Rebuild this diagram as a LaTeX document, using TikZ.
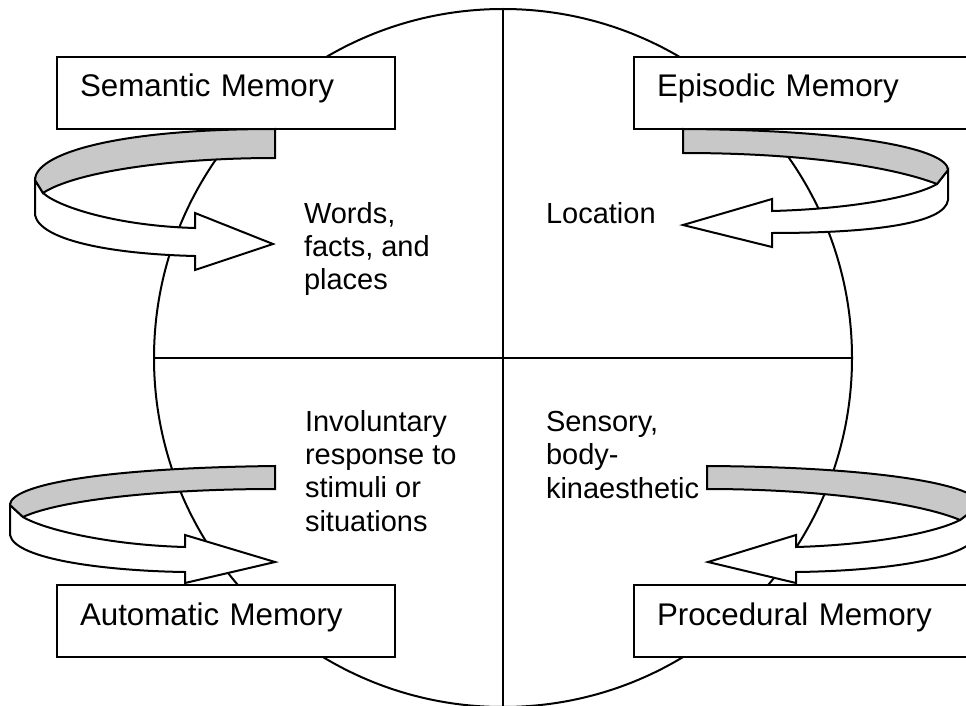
\documentclass[tikz,border=0pt]{standalone}
\usepackage{fontspec}
\setmainfont{Liberation Sans}
\definecolor{ribbongray}{RGB}{200,200,200}
\begin{document}
\begin{tikzpicture}[x=1pt,y=-1pt,line width=2pt,line join=miter,
  membox/.style={draw,fill=white,anchor=north west,outer sep=0pt,inner xsep=23pt,
    inner ysep=17pt,text height=23pt,text depth=15pt,align=left,
    font=\fontsize{31.3}{37}\selectfont},
  bodytext/.style={anchor=base west,inner sep=0pt,align=left,
    font=\fontsize{29}{33.2}\selectfont},
  ribgray/.style={draw,fill=ribbongray},
  ribwhite/.style={draw,fill=white}]
\clip (0,0) rectangle (966,706);
\fill[white] (0,0) rectangle (966,706);

% circle with quadrants
\node[draw,circle,minimum size=698pt,inner sep=0pt,outer sep=0pt] (brain) at (503,358) {};
\draw (brain.north) -- (brain.south);
\draw (brain.west) -- (brain.east);

% boxes
\node[membox,text width=292pt] (sem) at (57,57) {Semantic Memory};
\node[membox,text width=354pt] (epi) at (634,57) {Episodic Memory};
\node[membox,text width=292pt] (aut) at (57,585) {Automatic Memory};
\node[membox,text width=354pt] (pro) at (634,585) {Procedural Memory};

% semantic ribbon
\draw[ribwhite] (35,180) -- (35,215) .. controls (40,240) and (110,254) .. (195,256)
  -- (195,270) -- (273,244) -- (195,213) -- (195,228)
  .. controls (120,226) and (60,208) .. (43,193) -- cycle;
\draw[ribgray] (275,129) .. controls (110,129) and (35,155) .. (35,180)
  -- (43,193) .. controls (75,172) and (170,158) .. (275,158) -- cycle;

% episodic ribbon
\draw[ribwhite] (948,170) -- (948,200) .. controls (945,224) and (870,233) .. (772,233)
  -- (772,247) -- (683,225) -- (772,199) -- (772,211)
  .. controls (850,209) and (915,197) .. (937,184) -- cycle;
\draw[ribgray] (683,129) .. controls (860,130) and (948,150) .. (948,170)
  -- (937,184) .. controls (890,166) and (800,153) .. (683,153) -- cycle;

% automatic ribbon
\draw[ribwhite] (10,505) -- (10,535) .. controls (15,560) and (110,571) .. (185,572)
  -- (185,583) -- (275,562) -- (185,535) -- (185,547)
  .. controls (110,545) and (45,530) .. (23,517) -- cycle;
\draw[ribgray] (275,466) .. controls (100,468) and (10,485) .. (10,505)
  -- (23,517) .. controls (60,500) and (160,489) .. (275,489) -- cycle;

% procedural ribbon
\draw[ribwhite] (980,505) -- (980,530) .. controls (975,560) and (880,571) .. (796,572)
  -- (796,583) -- (708,562) -- (796,535) -- (796,547)
  .. controls (870,545) and (935,533) .. (960,520) -- cycle;
\draw[ribgray] (707,466) .. controls (880,467) and (980,485) .. (980,505)
  -- (960,520) .. controls (920,503) and (820,489) .. (707,489) -- cycle;

% quadrant texts (anchored at the baseline of the last line)
\node[bodytext] (semtxt) at (303,289.5) {Words,\\facts, and\\places};
\node[bodytext] (epitxt) at (545,223) {Location};
\node[bodytext] (auttxt) at (304,531) {Involuntary\\response to\\stimuli or\\situations};
\node[bodytext] (protxt) at (545,498) {Sensory,\\body-\\kinaesthetic};
\end{tikzpicture}
\end{document}
